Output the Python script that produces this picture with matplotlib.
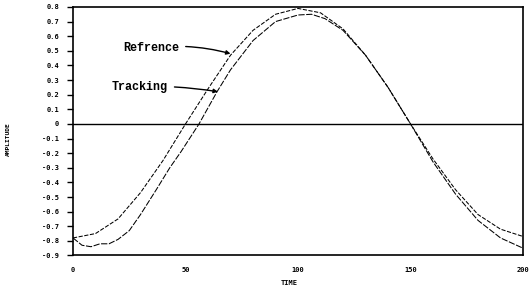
import matplotlib
matplotlib.use("Agg")
import matplotlib.pyplot as plt

# Data
t_ref = [0, 10, 20, 30, 40, 50, 60, 70, 80, 90, 100, 110, 120, 130, 140, 150, 160, 170, 180, 190, 200]
y_ref = [-0.78, -0.75, -0.65, -0.47, -0.25, 0.00, 0.24, 0.47, 0.64, 0.75, 0.79, 0.76, 0.65, 0.47, 0.25, 0.00,
         -0.24, -0.45, -0.62, -0.72, -0.77]

t_trk = [0, 4, 8, 12, 16, 20, 25, 30, 37, 43, 48, 56, 64, 70, 80, 90, 100, 106, 112, 120, 130, 140, 150,
         160, 170, 180, 190, 200]
y_trk = [-0.78, -0.83, -0.84, -0.82, -0.82, -0.79, -0.73, -0.62, -0.45, -0.30, -0.19, 0.00, 0.22, 0.37,
         0.57, 0.70, 0.745, 0.75, 0.72, 0.64, 0.47, 0.25, 0.00, -0.26, -0.48, -0.66, -0.78, -0.85]

x_ticks = [0, 50, 100, 150, 200]
x_ticklabels = ["0", "50", "100", "150", "200"]
y_ticks = [0.8, 0.7, 0.6, 0.5, 0.4, 0.3, 0.2, 0.1, 0.0, -0.1, -0.2, -0.3, -0.4, -0.5, -0.6, -0.7, -0.8, -0.9]
y_ticklabels = ["0.8", "0.7", "0.6", "0.5", "0.4", "0.3", "0.2", "0.1", "0", "-0.1", "-0.2", "-0.3",
                "-0.4", "-0.5", "-0.6", "-0.7", "-0.8", "-0.9"]

fig = plt.figure(figsize=(5.31, 2.90), dpi=100)
ax = fig.add_axes([0.1375, 0.119, 0.8475, 0.857])

ax.plot(t_ref, y_ref, color="black", lw=0.75, linestyle=(0, (4, 1.5)))
ax.plot(t_trk, y_trk, color="black", lw=0.75, linestyle=(0, (6, 1.5)))
ax.axhline(0, color="black", lw=1.0)

ax.set_xlim(0, 200)
ax.set_ylim(-0.9, 0.8)
ax.set_xticks(x_ticks)
ax.set_xticklabels(x_ticklabels)
ax.set_yticks(y_ticks)
ax.set_yticklabels(y_ticklabels)

for s in ax.spines.values():
    s.set_linewidth(1.2)

ax.tick_params(axis="y", direction="out", length=4, width=1, labelsize=5, pad=6)
ax.tick_params(axis="x", direction="out", length=0, width=1, labelsize=5, pad=8)
for lab in ax.get_xticklabels() + ax.get_yticklabels():
    lab.set_fontweight("bold")
    lab.set_family("DejaVu Sans Mono")

fig.text(0.015, 0.52, "AMPLITUDE", rotation=90, ha="center", va="center",
         fontsize=4.5, fontweight="bold", family="DejaVu Sans Mono")
fig.text(0.545, 0.025, "TIME", ha="center", va="center",
         fontsize=5, fontweight="bold", family="DejaVu Sans Mono")

ax.annotate("Refrence", xy=(70, 0.48), xytext=(47, 0.52),
            fontsize=8.5, fontweight="bold", family="Liberation Mono", ha="right", va="center",
            arrowprops=dict(arrowstyle="-|>", color="black", lw=1.0, mutation_scale=6,
                            connectionstyle="arc3,rad=-0.1", shrinkA=3, shrinkB=0))
ax.annotate("Tracking", xy=(64.4, 0.22), xytext=(42, 0.255),
            fontsize=8.5, fontweight="bold", family="Liberation Mono", ha="right", va="center",
            arrowprops=dict(arrowstyle="-|>", color="black", lw=1.0, mutation_scale=6,
                            connectionstyle="arc3,rad=-0.05", shrinkA=3, shrinkB=0))

fig.savefig("out.png", dpi=100)
